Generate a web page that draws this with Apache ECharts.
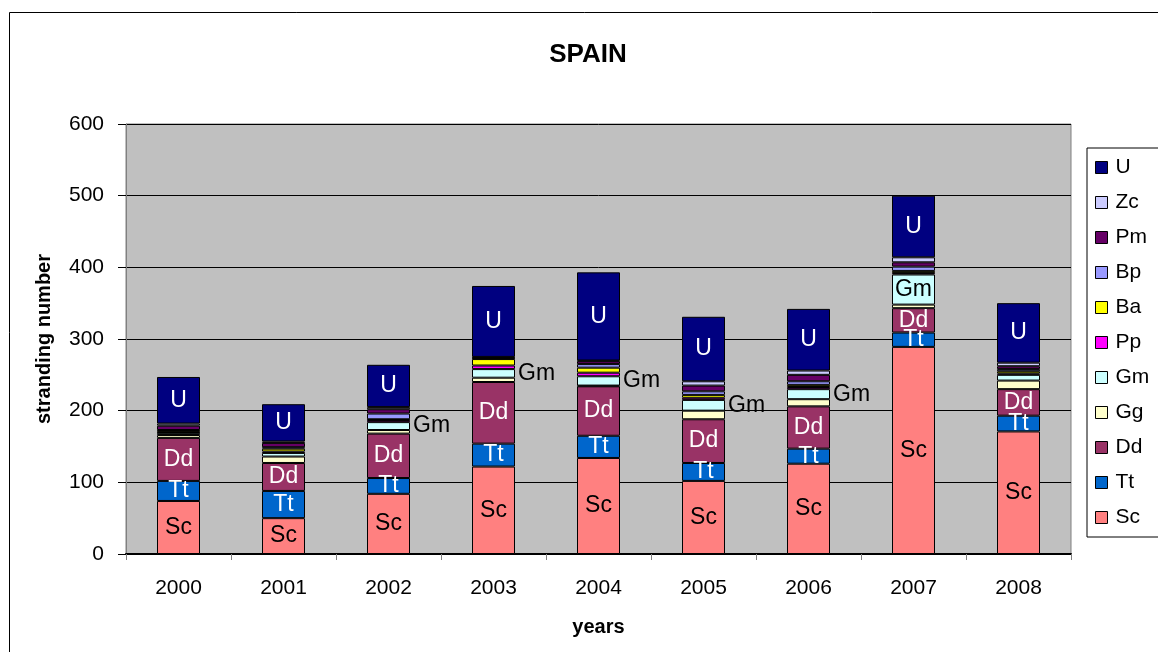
<!DOCTYPE html>
<html>
<head>
<meta charset="utf-8">
<script src="https://cdn.jsdelivr.net/npm/echarts@6/dist/echarts.min.js"></script>
<style>
  html, body { margin: 0; padding: 0; background: #fff; }
  #chart { width: 1158px; height: 652px; }
</style>
</head>
<body>
<div id="chart"></div>
<script>
// years on the x axis
const years = ['2000', '2001', '2002', '2003', '2004', '2005', '2006', '2007', '2008']

// species, bottom of the stack first
const Sc = [74, 50, 84, 122, 134, 102, 126, 289, 171]
const Tt = [28, 38, 22, 32, 31, 25, 21, 20, 22]
const Dd = [60, 39, 62, 86, 69, 61, 59, 34, 37]
const Gg = [4, 9, 5, 6, 1, 12, 10, 5, 12]
const Gm = [3, 5, 11, 12, 13, 15, 14, 42, 8]
const Pp = [1, 2, 3, 5, 5, 3, 3, 2, 2]
const Ba = [2, 4, 1, 9, 7, 4, 3, 3, 3]
const Bp = [1, 2, 8, 1, 5, 5, 5, 6, 3]
const Pm = [6, 6, 6, 1, 4, 8, 9, 6, 4]
const Zc = [3, 2, 3, 1, 1, 6, 6, 7, 5]
const U = [65, 52, 59, 99, 123, 90, 86, 86, 83]

const yTicks = [0, 100, 200, 300, 400, 500, 600]

// where the Gm label goes for each year ('' = no label)
const gmLabelPos = ['', '', 'right', 'right', 'right', 'right', 'right', 'inside', '']

const FONT = "'Liberation Sans', Arial, sans-serif"

const stack = [
  { name: 'Sc', data: Sc, color: '#FF8080', label: '#000' },
  { name: 'Tt', data: Tt, color: '#0066CC', label: '#fff' },
  { name: 'Dd', data: Dd, color: '#993366', label: '#fff' },
  { name: 'Gg', data: Gg, color: '#FFFFCC' },
  { name: 'Gm', data: Gm, color: '#CCFFFF' },
  { name: 'Pp', data: Pp, color: '#FF00FF' },
  { name: 'Ba', data: Ba, color: '#FFFF00' },
  { name: 'Bp', data: Bp, color: '#9999FF' },
  { name: 'Pm', data: Pm, color: '#660066' },
  { name: 'Zc', data: Zc, color: '#CCCCFF' },
  { name: 'U', data: U, color: '#000080', label: '#fff' }
]

let series = stack.map(s => {
  let item = {
    name: s.name,
    type: 'bar',
    stack: 'all',
    barWidth: 43,
    itemStyle: { color: s.color, borderColor: '#000', borderWidth: 1 },
    label: { show: false },
    emphasis: { disabled: true },
    data: s.data.slice()
  }
  if (s.label) {
    item.label = {
      show: true,
      position: 'inside',
      formatter: s.name,
      color: s.label,
      fontSize: 23,
      fontFamily: FONT
    }
  }
  if (s.name === 'Gm') {
    item.data = s.data.map((v, i) => {
      if (!gmLabelPos[i]) return v
      return {
        value: v,
        label: {
          show: true,
          position: gmLabelPos[i],
          distance: 3,
          formatter: 'Gm',
          color: '#000',
          fontSize: 23,
          fontFamily: FONT
        }
      }
    })
  }
  return item
})

let chart = echarts.init(document.getElementById('chart'))
chart.setOption({
  animation: false,
  backgroundColor: '#fff',
  textStyle: { fontFamily: FONT },
  title: {
    text: 'SPAIN',
    left: 583,
    textAlign: 'center',
    top: 37,
    textStyle: { fontSize: 26, fontWeight: 'bold', color: '#000', fontFamily: FONT }
  },
  graphic: [{
    type: 'rect',
    shape: { x: 9.5, y: 12.5, width: 1200, height: 700 },
    style: { fill: 'none', stroke: '#000', lineWidth: 1 },
    silent: true,
    z: -1
  }],
  legend: {
    data: ['U', 'Zc', 'Pm', 'Bp', 'Ba', 'Pp', 'Gm', 'Gg', 'Dd', 'Tt', 'Sc'],
    orient: 'vertical',
    left: 1087,
    top: 148,
    padding: [9, 40, 9, 8],
    itemGap: 14,
    itemWidth: 12,
    itemHeight: 12,
    icon: 'rect',
    borderColor: '#000',
    borderWidth: 1,
    borderRadius: 0,
    backgroundColor: '#fff',
    itemStyle: { borderColor: '#000', borderWidth: 1 },
    textStyle: { fontSize: 21, color: '#000', fontFamily: FONT, padding: [0, 0, 0, 3] }
  },
  grid: {
    left: 126,
    right: 87,
    top: 124,
    bottom: 98,
    show: true,
    backgroundColor: '#C0C0C0',
    borderColor: '#808080',
    borderWidth: 1
  },
  xAxis: {
    type: 'category',
    data: years,
    name: 'years',
    nameLocation: 'middle',
    nameGap: 63,
    nameTextStyle: { fontSize: 20, fontWeight: 'bold', color: '#000', fontFamily: FONT },
    axisLine: { lineStyle: { color: '#000', width: 2 } },
    axisTick: { show: true, length: 6, lineStyle: { color: '#808080' } },
    axisLabel: { fontSize: 21, color: '#000', margin: 24, fontFamily: FONT }
  },
  yAxis: {
    type: 'value',
    min: yTicks[0],
    max: yTicks[yTicks.length - 1],
    interval: 100,
    name: 'stranding number',
    nameLocation: 'middle',
    nameGap: 72,
    nameTextStyle: { fontSize: 20, fontWeight: 'bold', color: '#000', fontFamily: FONT },
    axisLine: { show: true, lineStyle: { color: '#808080' } },
    axisTick: { show: true, length: 8, lineStyle: { color: '#000' } },
    axisLabel: { fontSize: 21, color: '#000', margin: 22, fontFamily: FONT },
    splitLine: { show: true, lineStyle: { color: '#000', width: 1 } }
  },
  series: series
})
</script>
</body>
</html>
